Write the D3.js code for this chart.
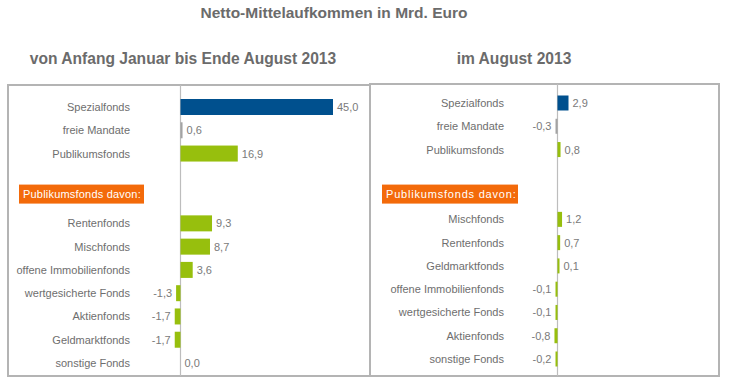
<!DOCTYPE html>
<html><head><meta charset="utf-8">
<script src="https://cdn.jsdelivr.net/npm/d3@7"></script>
<style>body{margin:0;background:#fff}svg{display:block;font-family:"Liberation Sans",Arial,sans-serif}</style>
</head><body>
<svg id="c" width="732" height="392"></svg>
<script>
const mainTitle = "Netto-Mittelaufkommen in Mrd. Euro";
const headerLabel = "Publikumsfonds davon:";

const leftTitle = "von Anfang Januar bis Ende August 2013";
const leftTopCats = ["Spezialfonds","freie Mandate","Publikumsfonds"];
const leftTopVals = [45.0, 0.6, 16.9];
const leftSubCats = ["Rentenfonds","Mischfonds","offene Immobilienfonds","wertgesicherte Fonds","Aktienfonds","Geldmarktfonds","sonstige Fonds"];
const leftSubVals = [9.3, 8.7, 3.6, -1.3, -1.7, -1.7, 0.0];

const rightTitle = "im August 2013";
const rightTopCats = ["Spezialfonds","freie Mandate","Publikumsfonds"];
const rightTopVals = [2.9, -0.3, 0.8];
const rightSubCats = ["Mischfonds","Rentenfonds","Geldmarktfonds","offene Immobilienfonds","wertgesicherte Fonds","Aktienfonds","sonstige Fonds"];
const rightSubVals = [1.2, 0.7, 0.1, -0.1, -0.1, -0.8, -0.2];

const colors = {"Spezialfonds":"#00508e","freie Mandate":"#a3a3a3"};
const green = "#97bf0d";
const fmt = v => d3.format(".1f")(v).replace(".", ",").replace("−","-");

const svg = d3.select("#c");
svg.append("text").attr("x",334).attr("y",18).attr("text-anchor","middle")
  .attr("font-size",15.5).attr("font-weight","bold").attr("fill","#6b6b6b").text(mainTitle);

function panel(o){
  const g = svg.append("g");
  g.append("rect").attr("x",o.box[0]).attr("y",o.box[1]).attr("width",o.box[2]).attr("height",o.box[3])
    .attr("fill","none").attr("stroke","#b4b4b4").attr("stroke-width",2);
  g.append("text").attr("x",o.titleX).attr("y",64).attr("text-anchor","middle")
    .attr("font-size",15.6).attr("font-weight","bold").attr("fill","#6b6b6b").text(o.title);
  const rows = o.topCats.map((c,i)=>({c,v:o.topVals[i]}))
    .concat([{c:"_gap",v:null},{c:"_hdr",v:null}])
    .concat(o.subCats.map((c,i)=>({c,v:o.subVals[i]})));
  const y = d3.scalePoint().domain(rows.map((d,i)=>i)).range(o.yRange);
  const x = d3.scaleLinear().domain(o.xDomain).range(o.xRange);
  const x0 = x(0);
  g.append("line").attr("x1",x0).attr("x2",x0).attr("y1",o.box[1]).attr("y2",o.box[1]+o.box[3])
    .attr("stroke","#bdbdbd").attr("stroke-width",1.2);
  const data = rows.map((d,i)=>({...d,i})).filter(d=>d.v!==null);
  const w = d => d.v===0 ? 0 : Math.max(2, Math.abs(x(d.v)-x0));
  g.selectAll("rect.bar").data(data).join("rect").attr("class","bar")
    .attr("x",d=>d.v>=0 ? x0 : x0-w(d)).attr("width",w)
    .attr("y",d=>y(d.i)-o.bh/2).attr("height",o.bh)
    .attr("fill",d=>colors[d.c]||green);
  g.selectAll("text.cat").data(data).join("text").attr("class","cat")
    .attr("x",o.labelX).attr("y",d=>y(d.i)+4).attr("text-anchor","end")
    .attr("font-size",11).attr("fill","#6e6e6e").text(d=>d.c);
  g.selectAll("text.val").data(data).join("text").attr("class","val")
    .attr("x",d=>d.v>=0 ? x0+w(d)+4 : x0-w(d)-4).attr("y",d=>y(d.i)+4)
    .attr("text-anchor",d=>d.v>=0?"start":"end")
    .attr("font-size",11).attr("fill","#7a7a7a").text(d=>fmt(d.v));
  const hy = y(4)+o.hdrOff;
  g.append("rect").attr("x",o.hdr[0]).attr("y",hy-9.5).attr("width",o.hdr[1]).attr("height",19).attr("fill","#f36a0a");
  g.append("text").attr("x",o.hdr[0]+4).attr("y",hy+4).attr("font-size",11).attr("fill","#fff")
    .attr("letter-spacing",o.hdrLs).text(headerLabel);
}

panel({box:[8,85,362,291], title:leftTitle, titleX:183,
  topCats:leftTopCats, topVals:leftTopVals, subCats:leftSubCats, subVals:leftSubVals,
  yRange:[107,363], xDomain:[0,45], xRange:[180.5,333], bh:16, labelX:130,
  hdr:[19,125], hdrOff:-6, hdrLs:0.2});
panel({box:[370,84,349,292], title:rightTitle, titleX:514,
  topCats:rightTopCats, topVals:rightTopVals, subCats:rightSubCats, subVals:rightSubVals,
  yRange:[103,359], xDomain:[0,2.9], xRange:[557.5,568.5], bh:15, labelX:504,
  hdr:[382,136], hdrOff:-2, hdrLs:0.8});
</script>
</body></html>
